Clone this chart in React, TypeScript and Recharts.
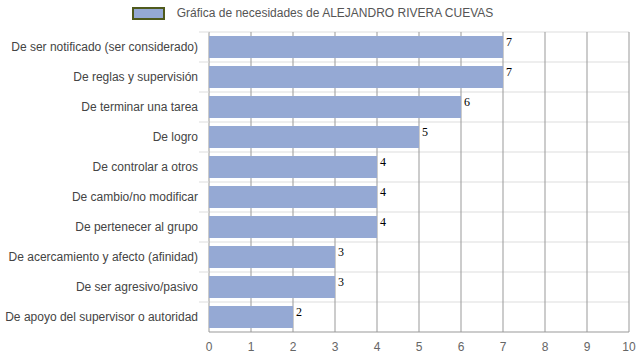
import React from 'react';
import { BarChart, Bar, XAxis, YAxis, CartesianGrid, Legend, LabelList } from 'recharts';

const categories = [
  'De ser notificado (ser considerado)',
  'De reglas y supervisión',
  'De terminar una tarea',
  'De logro',
  'De controlar a otros',
  'De cambio/no modificar',
  'De pertenecer al grupo',
  'De acercamiento y afecto (afinidad)',
  'De ser agresivo/pasivo',
  'De apoyo del supervisor o autoridad',
];
const values = [7, 7, 6, 5, 4, 4, 4, 3, 3, 2];
const xTicks = [0, 1, 2, 3, 4, 5, 6, 7, 8, 9, 10];
const seriesName = 'Gráfica de necesidades de ALEJANDRO RIVERA CUEVAS';

const data = categories.map((name, i) => ({ name, value: values[i] }));

const sans = 'Arial, "Liberation Sans", sans-serif';

function LegendBox() {
  return (
    <div
      style={{
        display: 'flex',
        justifyContent: 'center',
        alignItems: 'center',
        height: 26,
        paddingRight: 14,
        fontFamily: sans,
        fontSize: 12,
        color: '#555',
      }}
    >
      <span
        style={{
          display: 'inline-block',
          width: 29,
          height: 9,
          background: '#95a9d4',
          border: '2px solid #4f5a1c',
          marginRight: 12,
        }}
      />
      <span>{seriesName}</span>
    </div>
  );
}

// category label plus the short separator stub left of the plot
function CategoryTick(props: any) {
  const { x, y, payload } = props;
  const half = payload.offset || 0;
  return (
    <g>
      <line x1={x} x2={x + 10} y1={y - half} y2={y - half} stroke="#ddd" />
      <text x={x - 1} y={y} dy={4} textAnchor="end" fill="#444" fontSize={12} fontFamily={sans}>
        {payload.value}
      </text>
    </g>
  );
}

function ValueLabel(props: any) {
  const { x, y, width, value } = props;
  return (
    <text x={x + width + 3} y={y + 10} fontFamily='"Times New Roman", "Liberation Serif", serif' fontSize={12} fill="#000">
      {value}
    </text>
  );
}

// lines between the category bands, not through their centres
const rowBoundaries = ({ offset }: any) =>
  categories.map((_, i) => offset.top + (i * offset.height) / categories.length);

export default function App() {
  return (
    <div style={{ position: 'absolute', left: 0, top: 0 }}>
      <BarChart
        width={639}
        height={360}
        data={data}
        layout="vertical"
        margin={{ top: 6, right: 10, bottom: 0, left: 0 }}
      >
        <Legend verticalAlign="top" content={<LegendBox />} wrapperStyle={{ top: 0, left: 0, width: 639 }} />
        <XAxis
          type="number"
          domain={[0, 10]}
          ticks={xTicks}
          tickLine={false}
          axisLine={{ stroke: '#999' }}
          tick={{ fill: '#666', fontSize: 12, fontFamily: sans }}
          tickMargin={4}
          height={28}
          interval={0}
        />
        <YAxis
          type="category"
          dataKey="name"
          width={209}
          tickLine={false}
          axisLine={false}
          tickSize={0}
          tickMargin={10}
          interval={0}
          tick={<CategoryTick />}
        />
        <CartesianGrid vertical={false} stroke="#ddd" horizontalCoordinatesGenerator={rowBoundaries} />
        <Bar dataKey="value" fill="#95a9d4" barSize={22} isAnimationActive={false}>
          <LabelList dataKey="value" content={<ValueLabel />} />
        </Bar>
        <CartesianGrid horizontal={false} stroke="#999" />
      </BarChart>
    </div>
  );
}
